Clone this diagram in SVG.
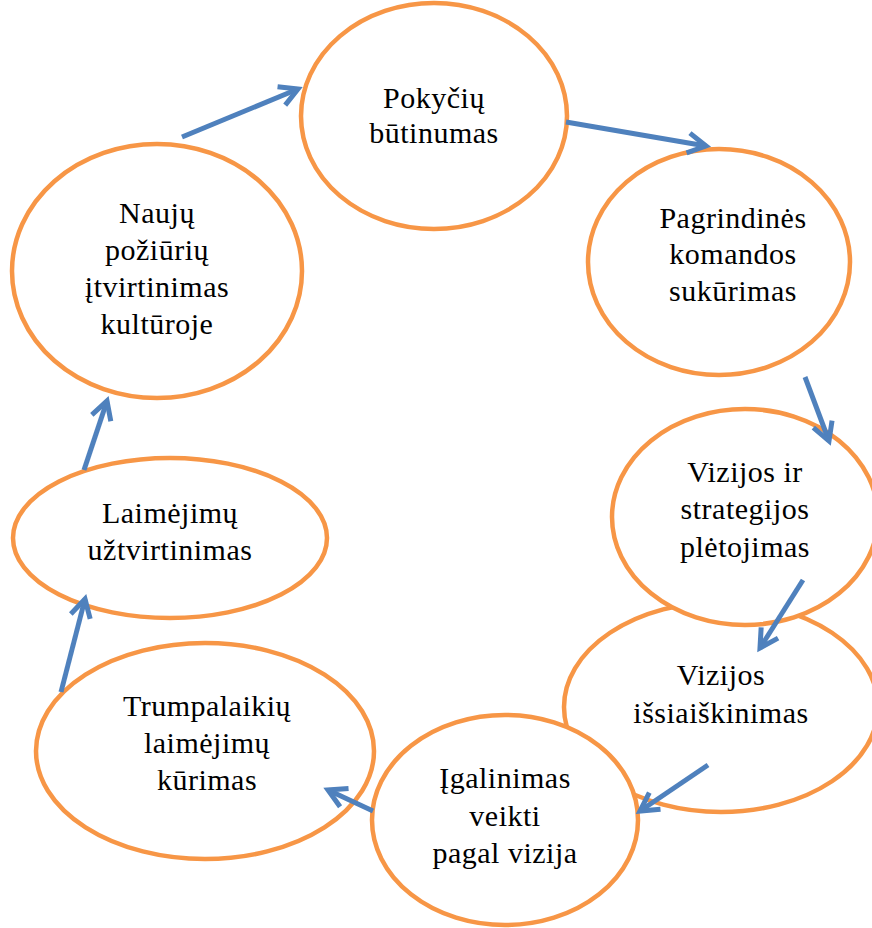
<svg xmlns="http://www.w3.org/2000/svg" width="872" height="928" viewBox="0 0 872 928">
<style>
.node ellipse{fill:#fff;stroke:#F79646;stroke-width:4.5}
.node text{font-family:"Liberation Serif","DejaVu Serif",serif;font-size:30px;letter-spacing:0.5px;fill:#000;text-anchor:middle}
.conn line{stroke:#4F81BD;stroke-width:5;fill:none;marker-end:url(#ah)}
</style>
<defs>
<marker id="ah" markerUnits="userSpaceOnUse" markerWidth="40" markerHeight="40" refX="0" refY="0" orient="auto" overflow="visible">
<path d="M-18,-10 L0,0 L-18,10" fill="none" stroke="#4F81BD" stroke-width="5" stroke-linejoin="miter" stroke-linecap="butt"/>
</marker>
</defs>
<rect width="872" height="928" fill="#fff"/>
<g id="n5" class="node">
<ellipse cx="721" cy="707" rx="157" ry="105"/>
<text x="721" y="685">Vizijos</text>
<text x="721" y="723">išsiaiškinimas</text>
</g>
<g id="n4" class="node">
<ellipse cx="745" cy="517" rx="133" ry="108"/>
<text x="745" y="482">Vizijos ir</text>
<text x="745" y="519">strategijos</text>
<text x="745" y="557">plėtojimas</text>
</g>
<g id="n1" class="node">
<ellipse cx="434" cy="116" rx="133" ry="113"/>
<text x="434" y="108">Pokyčių</text>
<text x="434" y="143">būtinumas</text>
</g>
<g id="n2" class="node">
<ellipse cx="719" cy="262" rx="131" ry="113"/>
<text x="733" y="228">Pagrindinės</text>
<text x="733" y="264">komandos</text>
<text x="733" y="301">sukūrimas</text>
</g>
<g id="n6" class="node">
<ellipse cx="505" cy="820" rx="133" ry="105"/>
<text x="505" y="788">Įgalinimas</text>
<text x="505" y="826">veikti</text>
<text x="505" y="863">pagal vizija</text>
</g>
<g id="n7" class="node">
<ellipse cx="205" cy="751" rx="169" ry="108"/>
<text x="207" y="716">Trumpalaikių</text>
<text x="207" y="753">laimėjimų</text>
<text x="207" y="790">kūrimas</text>
</g>
<g id="n8" class="node">
<ellipse cx="170" cy="538" rx="157" ry="80"/>
<text x="170" y="523">Laimėjimų</text>
<text x="170" y="560">užtvirtinimas</text>
</g>
<g id="n9" class="node">
<ellipse cx="157" cy="271" rx="145" ry="127"/>
<text x="157" y="223">Naujų</text>
<text x="157" y="260">požiūrių</text>
<text x="157" y="297">įtvirtinimas</text>
<text x="157" y="334">kultūroje</text>
</g>
<g id="connectors" class="conn">
<line x1="182" y1="137" x2="298" y2="89"/>
<line x1="566" y1="122" x2="706" y2="146"/>
<line x1="805" y1="377" x2="829" y2="441"/>
<line x1="803" y1="580" x2="760" y2="648"/>
<line x1="708" y1="765" x2="640" y2="811"/>
<line x1="373" y1="811" x2="328" y2="790"/>
<line x1="61" y1="692" x2="85" y2="599"/>
<line x1="84" y1="470" x2="107" y2="401"/>
</g>
</svg>
